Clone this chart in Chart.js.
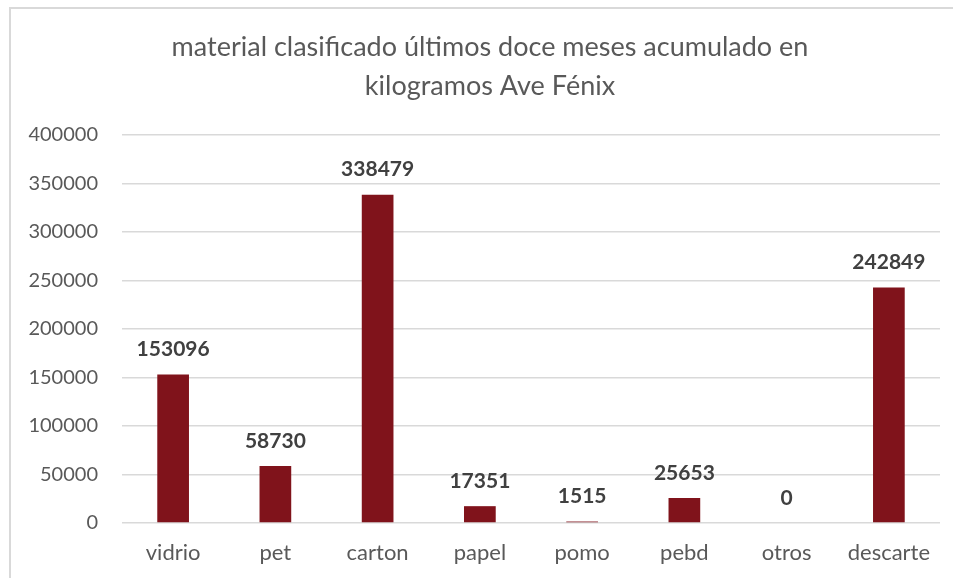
<!DOCTYPE html>
<html>
<head>
<meta charset="utf-8">
<script src="https://cdn.jsdelivr.net/npm/chart.js@4"></script>
<style>
  body { margin: 0; background: #fff; }
  #caja { position: relative; width: 953px; height: 578px; overflow: hidden; }
  #borde { position: absolute; left: 9px; top: 7px; width: 2000px; height: 2000px;
           border-left: 2px solid #d9d9d9; border-top: 2px solid #d9d9d9; pointer-events: none; }
</style>
</head>
<body>
<div id="caja">
  <canvas id="grafica" width="953" height="578"></canvas>
  <div id="borde"></div>
</div>
<script>
const $grafica = document.querySelector("#grafica");

const etiquetas = ["vidrio", "pet", "carton", "papel", "pomo", "pebd", "otros", "descarte"];
const kilos = [153096, 58730, 338479, 17351, 1515, 25653, 0, 242849];
const titulo = ["material clasificado últimos doce meses acumulado en", "kilogramos Ave Fénix"];

// etiquetas de valor encima de cada barra
const etiquetasValor = {
    id: 'etiquetasValor',
    afterDatasetsDraw(chart) {
        const ctx = chart.ctx;
        const meta = chart.getDatasetMeta(0);
        ctx.save();
        ctx.font = 'bold 21px Lato';
        ctx.fillStyle = '#404040';
        ctx.textAlign = 'center';
        ctx.textBaseline = 'middle';
        meta.data.forEach((barra, i) => {
            ctx.fillText(String(kilos[i]), barra.x, barra.y - 25);
        });
        ctx.restore();
    }
};

// titulo centrado sobre todo el recuadro del grafico (no solo el area de barras)
const tituloCentrado = {
    id: 'tituloCentrado',
    afterDraw(chart) {
        const ctx = chart.ctx;
        ctx.save();
        ctx.font = '27px Lato';
        ctx.fillStyle = '#595959';
        ctx.textAlign = 'center';
        ctx.textBaseline = 'middle';
        titulo.forEach((linea, i) => {
            ctx.fillText(linea, 490, 47 + i * 39);
        });
        ctx.restore();
    }
};

new Chart($grafica, {
    type: 'bar',
    data: {
        labels: etiquetas,
        datasets: [{
            data: kilos,
            backgroundColor: '#80131b',
            borderWidth: 0,
            categoryPercentage: 0.62,
            barPercentage: 0.5,
        }]
    },
    options: {
        responsive: false,
        animation: false,
        layout: { padding: { left: 0, right: 13, top: 135, bottom: 0 } },
        plugins: {
            legend: { display: false },
            tooltip: { enabled: false },
            title: { display: false },
        },
        scales: {
            x: {
                afterFit(scale) { scale.height = 55; },
                grid: { display: false, drawTicks: false },
                border: { display: false },
                ticks: { color: '#595959', font: { family: 'Lato', size: 22 }, padding: 17 },
            },
            y: {
                min: 0,
                max: 400000,
                afterFit(scale) { scale.width = 122; },
                grid: { color: '#d9d9d9', lineWidth: 1.5, drawTicks: false },
                border: { display: false },
                ticks: {
                    stepSize: 50000,
                    color: '#595959',
                    font: { family: 'Lato', size: 20 },
                    padding: 24,
                    callback: (v) => String(v),
                },
            },
        },
    },
    plugins: [etiquetasValor, tituloCentrado],
});
</script>
</body>
</html>
